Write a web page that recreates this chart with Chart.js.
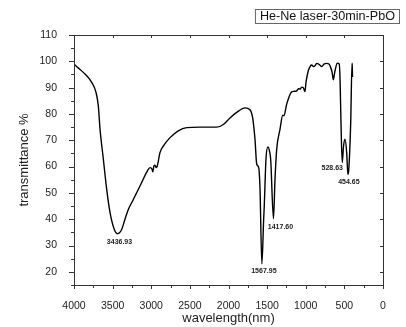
<!DOCTYPE html>
<html>
<head>
<meta charset="utf-8">
<script src="https://cdn.jsdelivr.net/npm/chart.js@4/dist/chart.umd.min.js"></script>
<style>
  html, body { margin: 0; padding: 0; background: #fff; }
  #wrap { width: 406px; height: 327px; position: relative; }
</style>
</head>
<body>
<div id="wrap"><canvas id="ftir"></canvas></div>
<script>
// FTIR spectrum
const wavenumbers = [
  4000, 3950, 3880, 3771, 3715, 3685, 3663, 3620, 3577, 3534, 3478, 3437, 3383, 3340,
  3297, 3232, 3146, 3051, 3016, 2990, 2981, 2965, 2951, 2935, 2922, 2887, 2844, 2757,
  2650, 2541, 2369, 2153, 2067, 1981, 1894, 1786, 1722, 1690, 1679, 1657, 1635, 1609,
  1592, 1568, 1545, 1537, 1515, 1490, 1470, 1454, 1418, 1398, 1376, 1333, 1298, 1282,
  1247, 1182, 1150, 1117, 1090, 1074, 1050, 1032, 1010, 997, 967, 940, 923, 900, 880,
  860, 838, 815, 794, 760, 729, 700, 686, 660, 643, 630, 618, 592, 566, 555, 544, 528,
  510, 492, 470, 455, 444, 418, 401, 398, 395
];
const transmittance = [
  99.0, 97.6, 95.8, 92.0, 88.2, 83.0, 74.2, 62.8, 51.4, 42.6, 36.1, 34.5, 36.1, 40.0,
  43.7, 47.5, 52.6, 58.3, 59.6, 59.0, 58.0, 60.3, 60.5, 59.6, 60.2, 65.3, 67.8, 71.0,
  73.6, 74.8, 75.0, 75.0, 76.0, 78.5, 80.6, 82.3, 81.6, 79.0, 76.8, 70.4, 61.0, 59.6,
  51.4, 23.0, 40.0, 45.0, 62.8, 67.5, 66.0, 62.8, 40.2, 55.2, 66.6, 74.2, 79.5, 79.3,
  83.7, 88.4, 88.6, 88.8, 89.6, 89.4, 90.2, 90.0, 88.5, 92.0, 96.4, 98.2, 98.6, 98.0, 98.3,
  99.2, 99.0, 98.5, 98.0, 99.0, 99.2, 99.0, 98.3, 96.0, 93.0, 95.0, 96.8, 99.3, 99.0, 92.0, 77.0, 61.5,
  68.0, 70.4, 65.3, 57.0, 58.5, 76.8, 99.3, 98.0, 94.0
];

// labelled absorption minima
const peakLabels = ['3436.93', '1567.95', '1417.60', '528.63', '454.65'];
const peakX = [3437, 1568, 1418, 528, 455];
const peakY = [34.5, 23.0, 40.2, 61.5, 57.0];

const xTicks = [4000, 3500, 3000, 2500, 2000, 1500, 1000, 500, 0];
const yTicks = [20, 30, 40, 50, 60, 70, 80, 90, 100, 110];

const seriesName = 'He-Ne laser-30min-PbO';

const points = wavenumbers.map((w, i) => ({ x: w, y: transmittance[i] }));

const frameColor = '#333';
const textColor = '#222';
const fontFamily = '"Liberation Sans", Arial, sans-serif';

// frame box + Origin-style ticks (outward bottom/left, inward top/right)
const framePlugin = {
  id: 'frame',
  afterDraw(chart) {
    const { ctx, chartArea: a, scales } = chart;
    const xs = scales.x, ys = scales.y;
    ctx.save();
    ctx.strokeStyle = frameColor;
    ctx.lineWidth = 1;
    ctx.strokeRect(Math.round(a.left) + 0.5, Math.round(a.top) + 0.5,
      Math.round(a.right - a.left), Math.round(a.bottom - a.top));

    ctx.beginPath();
    for (let v = 0; v <= 4000; v += 250) {
      const px = Math.round(xs.getPixelForValue(v)) + 0.5;
      const major = v % 500 === 0;
      ctx.moveTo(px, a.bottom);
      ctx.lineTo(px, a.bottom + (major ? 4 : 3));
      if (major) {
        ctx.moveTo(px, a.top);
        ctx.lineTo(px, a.top + 3);
      }
    }
    for (let v = 15; v <= 110; v += 5) {
      const py = Math.round(ys.getPixelForValue(v)) + 0.5;
      const major = v % 10 === 0;
      ctx.moveTo(a.left, py);
      ctx.lineTo(a.left - (major ? 5 : 3), py);
      if (major) {
        ctx.moveTo(a.right, py);
        ctx.lineTo(a.right - 3, py);
      }
    }
    ctx.stroke();

    // peak labels
    const offsets = [[2, 8], [2, 7], [7, 8], [-10, 5], [1, 8]];
    ctx.fillStyle = '#222';
    ctx.font = 'bold 7px ' + fontFamily;
    ctx.textAlign = 'center';
    ctx.textBaseline = 'middle';
    peakLabels.forEach((lbl, i) => {
      const px = xs.getPixelForValue(peakX[i]);
      const py = ys.getPixelForValue(peakY[i]);
      ctx.fillText(lbl, px + offsets[i][0], py + offsets[i][1]);
    });

    // boxed legend top right
    ctx.font = '12.6px ' + fontFamily;
    ctx.textAlign = 'left';
    const tw = ctx.measureText(seriesName).width;
    const bx = 399.5 - tw - 9;
    ctx.fillStyle = '#fff';
    ctx.fillRect(bx, 9.5, tw + 9, 14);
    ctx.strokeStyle = '#666';
    ctx.strokeRect(bx, 9.5, tw + 9, 14);
    ctx.fillStyle = '#111';
    ctx.fillText(seriesName, bx + 4.5, 17);
    ctx.restore();
  }
};

new Chart(document.getElementById('ftir'), {
  type: 'line',
  data: {
    datasets: [{
      label: seriesName,
      data: points,
      borderColor: '#000',
      borderWidth: 1.4,
      pointRadius: 0,
      fill: false,
      cubicInterpolationMode: 'monotone'
    }]
  },
  options: {
    responsive: true,
    maintainAspectRatio: false,
    animation: false,
    layout: { padding: { top: 35, right: 23, left: 0, bottom: 0 } },
    plugins: {
      legend: { display: false },
      tooltip: { enabled: false }
    },
    scales: {
      x: {
        type: 'linear',
        reverse: true,
        min: 0,
        max: 4000,
        afterBuildTicks: (s) => { s.ticks = xTicks.map(v => ({ value: v })); },
        afterFit: (s) => { s.height = 42; },
        grid: { display: false },
        border: { display: false },
        ticks: {
          color: textColor,
          font: { family: fontFamily, size: 10.5 },
          padding: 7,
          maxRotation: 0,
          autoSkip: false,
          callback: (v) => String(v)
        },
        title: {
          display: true,
          text: 'wavelength(nm)',
          color: textColor,
          font: { family: fontFamily, size: 13 },
          padding: { top: 0, bottom: 1 }
        }
      },
      y: {
        min: 15,
        max: 110,
        afterBuildTicks: (s) => { s.ticks = yTicks.map(v => ({ value: v })); },
        afterFit: (s) => { s.width = 74; },
        grid: { display: false },
        border: { display: false },
        ticks: {
          color: textColor,
          font: { family: fontFamily, size: 10.5 },
          padding: 9,
          autoSkip: false,
          callback: (v) => String(v)
        },
        title: {
          display: true,
          text: 'transmittance %',
          color: textColor,
          font: { family: fontFamily, size: 13 },
          padding: { top: 17, bottom: 0 }
        }
      }
    }
  },
  plugins: [framePlugin]
});
</script>
</body>
</html>
